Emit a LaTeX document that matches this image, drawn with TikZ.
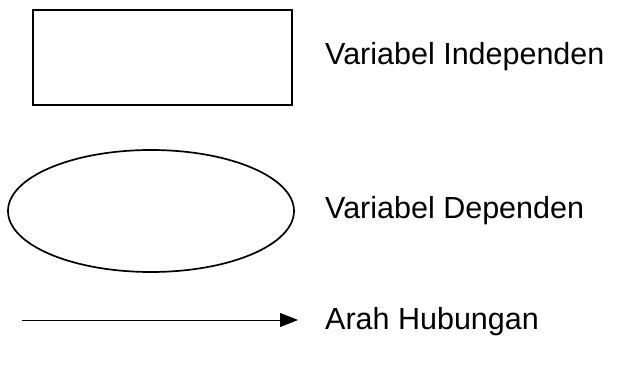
\documentclass[tikz,border=0pt]{standalone}
\usepackage{fontspec}
\setmainfont{Liberation Sans}
\usetikzlibrary{arrows.meta,positioning,shapes.geometric}

\tikzset{
  legendshape/.style={draw, line width=1.7pt, inner sep=0pt},
  legendlabel/.style={anchor=west, inner sep=0pt, font=\fontsize{30.5}{34}\selectfont}
}

\begin{document}
\begin{tikzpicture}[x=1pt, y=-1pt]
\useasboundingbox (0,0) rectangle (623,371);
% symbols
\node[legendshape, minimum width=259pt, minimum height=95pt] (indep) at (162.5,57.5) {};
\node[legendshape, ellipse, minimum width=286pt, minimum height=122pt] (dep) at (151,211) {};
\coordinate (arrowstart) at (22,320);
\coordinate (arrowend) at (298,320);
\draw[line width=0.8pt, -{Triangle[length=18pt, width=14pt]}] (arrowstart) -- (arrowend);
% labels
\node[legendlabel] (indeplabel) at (325,57) {Variabel Independen};
\node[legendlabel] (deplabel) at (325,211) {Variabel Dependen};
\node[legendlabel] (arrowlabel) at (325,322) {Arah Hubungan};
\end{tikzpicture}
\end{document}
